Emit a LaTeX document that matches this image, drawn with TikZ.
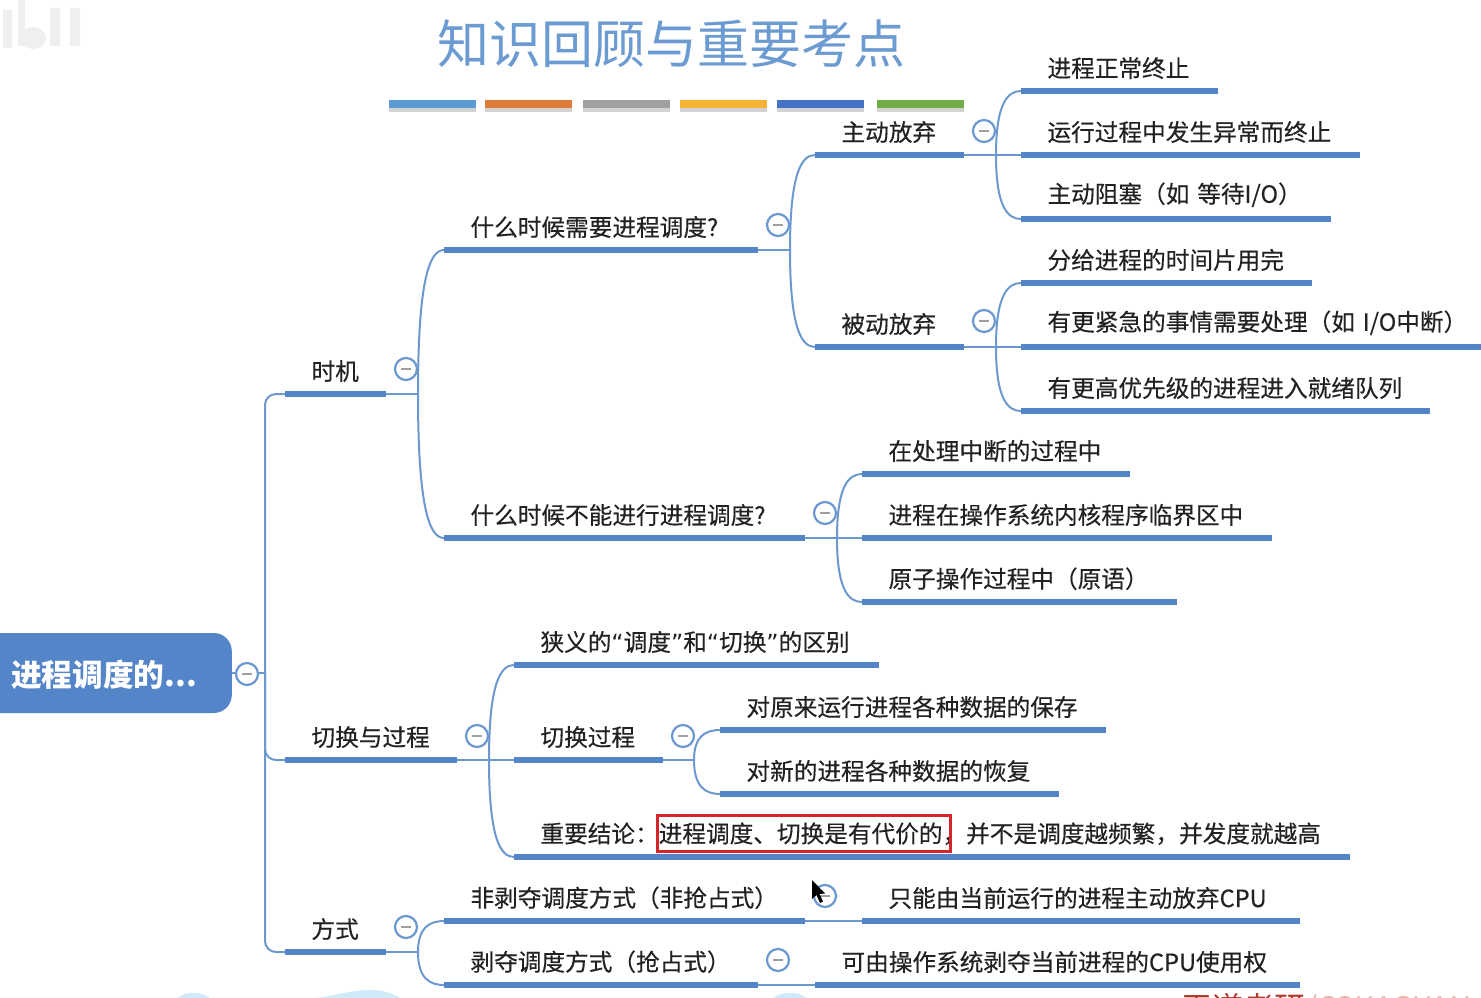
\documentclass[tikz,border=0pt]{standalone}
\usepackage{fontspec}
\setmainfont{Noto Sans CJK SC}
\newfontfamily\quotefont{DejaVu Sans}
\newfontfamily\topicfont[FakeBold=0.35]{Noto Sans CJK SC}
\usetikzlibrary{positioning,calc,shadows}

\definecolor{mapblue}{HTML}{5585C9}
\definecolor{linkblue}{HTML}{6C98D0}
\definecolor{titleblue}{HTML}{6C9BD2}
\definecolor{textdark}{HTML}{222222}
\definecolor{markred}{HTML}{D5252B}
\definecolor{cloudblue}{HTML}{CFEAF8}
\definecolor{logored}{HTML}{B0392B}
\definecolor{logopale}{HTML}{E3B9A8}
\definecolor{ghostgray}{HTML}{EFEFEF}

\tikzset{
  link/.style={draw=linkblue, line width=2pt},
  bar/.style={draw=mapblue, line width=6pt},
  % a topic: text with a thick rule under it, #1 = rule length
  topic/.style={anchor=south west, inner xsep=0pt, inner ysep=12pt, outer sep=0pt, text width=#1,
    text=textdark, font=\topicfont\fontsize{23.65}{26}\selectfont,
    execute at begin node={\hspace*{26.5pt}},
    append after command={(\tikzlastnode.south west) edge[bar] (\tikzlastnode.south east)}},
  toggle/.style={circle, draw=linkblue, fill=white, line width=2.2pt, minimum size=22pt, inner sep=0pt,
    path picture={\draw[gray!75, line width=1.8pt] ($(path picture bounding box.center)+(-5pt,0pt)$) -- ($(path picture bounding box.center)+(5pt,0pt)$);}},
  band/.style={minimum width=87pt, minimum height=8pt, inner sep=0pt, drop shadow={shadow xshift=0pt, shadow yshift=-4pt, opacity=.35}},
}

% fork from a parent's rule to its children
\newcommand{\forkto}[3]{
  \draw[link] (#1.south east) -- ++(#2,0) coordinate (j#1);
  \foreach \kid in {#3}
    \draw[link] (j#1) .. controls ($(j#1)!0.8!(j#1 |- \kid.south west)$) and ($(\kid.south west)!0.55!(j#1 |- \kid.south west)$) .. (\kid.south west);
}
\newcommand{\qm}[1]{{\quotefont #1}}

\begin{document}
\begin{tikzpicture}[x=1pt, y=-1pt]
  \useasboundingbox (0,0) rectangle (1481,998);

  % faint marks of the recording
  \fill[ghostgray] (3,10) rectangle (12,48) (18,0) rectangle (25,46) (50,8) rectangle (60,46) (70,8) rectangle (80,46);
  \fill[ghostgray] (33,38) ellipse (13 and 11);
  \fill[cloudblue] (177,998) .. controls (187,991) and (200,991) .. (210,998) -- cycle;
  \fill[cloudblue] (317,998) .. controls (345,994) and (375,982) .. (400,998) -- cycle;
  \fill[cloudblue] (773,998) .. controls (783,991) and (797,991) .. (807,998) -- cycle;
  \node[anchor=west, inner sep=0pt, font=\fontsize{31}{33}\selectfont] (logo) at (1181,1009) {\textcolor{logored}{王道考研}\textcolor{logopale}{/CSKAOYAN.COM}};

  % title and colour bands
  \node[text=titleblue, font=\fontsize{52}{56}\selectfont, inner sep=0pt] (title) at (671.5,44) {知识回顾与重要考点};
  \foreach \xpos/\bandcol in {432.5/5B9BD5, 528.5/E07B39, 626.5/A0A0A0, 723.5/F4B236, 820.5/4472C4, 920.5/70AD47} {
    \definecolor{bandcol}{HTML}{\bandcol}
    \node[band, fill=bandcol] (band\xpos) at (\xpos,103.5) {};
  }

  % root
  \node[fill=mapblue, rounded corners=18pt, minimum width=262pt, minimum height=80pt, inner sep=0pt, anchor=east] (root) at (232,673) {};
  \node[text=white, font=\fontsize{30.7}{32}\selectfont\bfseries, inner sep=0pt, anchor=west] (rootlabel) at (11,675) {进程调度的...};

  % first level
  \node[topic=101pt] (when) at (285,394) {时机};
  \node[topic=172pt] (swit) at (285,760) {切换与过程};
  \node[topic=101pt] (mode) at (285,952) {方式};

  % timing
  \node[topic=314pt] (need) at (444,250) {什么时候需要进程调度?};
  \node[topic=361pt] (nope) at (444,538) {什么时候不能进行进程调度?};
  \node[topic=149pt] (volun) at (815,155) {主动放弃};
  \node[topic=149pt] (force) at (815,347) {被动放弃};
  \node[topic=197pt] (vola) at (1021,91) {进程正常终止};
  \node[topic=339pt] (volb) at (1021,155) {运行过程中发生异常而终止};
  \node[topic=310pt] (volc) at (1021,219) {主动阻塞（如 等待I/O）};
  \node[topic=291pt] (fora) at (1021,283) {分给进程的时间片用完};
  \node[topic=470pt] (forb) at (1021,347) {有更紧急的事情需要处理（如 I/O中断）};
  \node[topic=409pt] (forc) at (1021,411) {有更高优先级的进程进入就绪队列};
  \node[topic=268pt] (nopa) at (862,474) {在处理中断的过程中};
  \node[topic=410pt] (nopb) at (862,538) {进程在操作系统内核程序临界区中};
  \node[topic=315pt] (nopc) at (862,602) {原子操作过程中（原语）};

  % switching
  \node[topic=365pt] (diff) at (514,665) {狭义的\qm{“}调度\qm{”}和\qm{“}切换\qm{”}的区别};
  \node[topic=149pt] (proc) at (514,760) {切换过程};
  \node[topic=836pt] (conc) at (514,857) {重要结论：进程调度、切换是有代价的，并不是调度越频繁，并发度就越高};
  \node[topic=386pt] (save) at (720,730) {对原来运行进程各种数据的保存};
  \node[topic=339pt] (rest) at (720,794) {对新的进程各种数据的恢复};
  \node[draw=markred, line width=3pt, minimum width=293pt, minimum height=36pt, inner sep=0pt] (mark) at (803.5,833) {};

  % modes
  \node[topic=361pt] (nonp) at (444,921) {非剥夺调度方式（非抢占式）};
  \node[topic=314pt] (pree) at (444,985) {剥夺调度方式（抢占式）};
  \node[topic=438pt] (nonq) at (862,921) {只能由当前运行的进程主动放弃CPU};
  \node[topic=485pt] (preq) at (815,985) {可由操作系统剥夺当前进程的CPU使用权};

  % connectors
  \draw[link] (root.east) -- ++(33,0) coordinate (jroot);
  \foreach \kid in {when,swit,mode}
    \draw[link, rounded corners=11pt] (jroot) |- (\kid.south west);
  \forkto{when}{32}{need,nope}
  \forkto{need}{32}{volun,force}
  \forkto{volun}{32}{vola,volb,volc}
  \forkto{force}{32}{fora,forb,forc}
  \forkto{nope}{32}{nopa,nopb,nopc}
  \forkto{swit}{32}{diff,proc,conc}
  \forkto{proc}{31}{save,rest}
  \forkto{mode}{32}{nonp,pree}
  \draw[link] (nonp.south east) -- (nonq.south west);
  \draw[link] (pree.south east) -- (preq.south west);

  % collapse marks
  \node[toggle] (troot) at (247,674) {};
  \node[toggle] (twhen) at (406,369) {};
  \node[toggle] (tswit) at (477,736) {};
  \node[toggle] (tmode) at (406,927) {};
  \node[toggle] (tneed) at (778,225) {};
  \node[toggle] (tnope) at (825,513) {};
  \node[toggle] (tvolun) at (984,131) {};
  \node[toggle] (tforce) at (984,321) {};
  \node[toggle] (tproc) at (683,736) {};
  \node[toggle] (tnonp) at (825,896) {};
  \node[toggle] (tpree) at (778,960) {};

  % pointer over the mark
  \fill[black] (812,880) -- (812,899) -- (816.5,895) -- (820,903) -- (823,901.5) -- (819.5,894) -- (825,893.5) -- cycle;
\end{tikzpicture}
\end{document}
